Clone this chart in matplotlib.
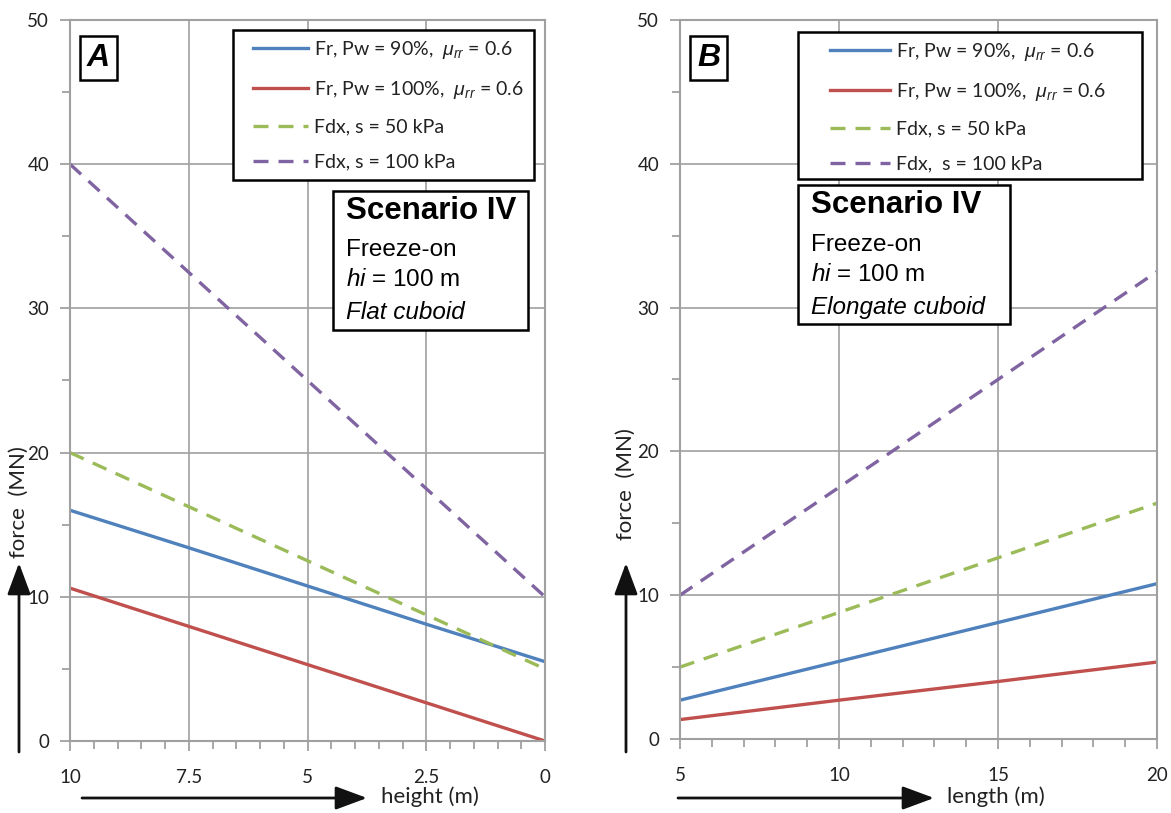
import matplotlib
matplotlib.use("Agg")
import matplotlib.pyplot as plt
from matplotlib.ticker import MultipleLocator
from matplotlib.patches import Rectangle, FancyArrowPatch

# ---- data ----
height_m = [10, 7.5, 5, 2.5, 0]
A_fr90 = [16.0, 13.4, 10.75, 8.1, 5.5]
A_fr100 = [10.6, 7.95, 5.3, 2.65, 0.0]
A_fdx50 = [20.0, 16.25, 12.5, 8.75, 5.0]
A_fdx100 = [40.0, 32.5, 25.0, 17.5, 10.0]

length_m = [5, 10, 15, 20]
B_fr90 = [2.7, 5.4, 8.1, 10.8]
B_fr100 = [1.35, 2.7, 4.0, 5.35]
B_fdx50 = [5.0, 8.8, 12.6, 16.4]
B_fdx100 = [10.0, 17.5, 25.0, 32.5]

labels_A = [r"Fr, Pw = 90%,  $\mu_{rr}$ = 0.6", r"Fr, Pw = 100%,  $\mu_{rr}$ = 0.6",
            "Fdx, s = 50 kPa", "Fdx, s = 100 kPa"]
labels_B = [r"Fr, Pw = 90%,  $\mu_{rr}$ = 0.6", r"Fr, Pw = 100%,  $\mu_{rr}$ = 0.6",
            "Fdx, s = 50 kPa", "Fdx,  s = 100 kPa"]
height_ticklabels = ["10", "7.5", "5", "2.5", "0"]

colors = ["#4F81BD", "#C0504D", "#9BBB59", "#8064A2"]
styles = ["-", "-", (0, (4.5, 3.0)), (0, (4.5, 3.0))]

plt.rcParams["font.family"] = ["Lato", "DejaVu Sans"]
plt.rcParams["mathtext.fontset"] = "custom"
plt.rcParams["mathtext.it"] = "Lato:italic"
plt.rcParams["mathtext.rm"] = "Lato"

W, H = 1171, 813
fig = plt.figure(figsize=(W/100, H/100), dpi=100)

def fx(px):
    return px / W
def fy(py):
    return 1 - py / H

axA = fig.add_axes([fx(70), fy(741), 475/W, 721/H])
axB = fig.add_axes([fx(680), fy(739), 477/W, 719/H])

def style_ax(ax, xmaj, xmin):
    ax.set_ylim(0, 50)
    ax.yaxis.set_major_locator(MultipleLocator(10))
    ax.yaxis.set_minor_locator(MultipleLocator(5))
    ax.xaxis.set_major_locator(MultipleLocator(xmaj))
    ax.xaxis.set_minor_locator(MultipleLocator(xmin))
    ax.grid(True, which="major", color="#A0A0A0", linewidth=1.2)
    for s in ax.spines.values():
        s.set_color("#A0A0A0")
        s.set_linewidth(1.5)
    ax.tick_params(which="both", direction="out", color="#A0A0A0", width=1.3,
                   labelsize=13.5, labelcolor="#222222")
    ax.tick_params(axis="y", which="major", length=7, pad=8)
    ax.tick_params(axis="x", which="major", length=7, pad=13)
    ax.tick_params(which="minor", length=6)
    ax.set_axisbelow(True)

seriesA = [A_fr90, A_fr100, A_fdx50, A_fdx100]
seriesB = [B_fr90, B_fr100, B_fdx50, B_fdx100]
for ys, c, ls, lab in zip(seriesA, colors, styles, labels_A):
    axA.plot(height_m, ys, color=c, linestyle=ls, linewidth=2.4, label=lab)
for ys, c, ls, lab in zip(seriesB, colors, styles, labels_B):
    axB.plot(length_m, ys, color=c, linestyle=ls, linewidth=2.4, label=lab)

axA.set_xlim(10, 0)
axB.set_xlim(5, 20)
style_ax(axA, 2.5, 0.5)
style_ax(axB, 5, 1)
axA.set_xticks(height_m)
axA.set_xticklabels(height_ticklabels)

# legends: frame drawn manually, entries placed with a frameless legend
for ax, (x0, y0, x1, y1), (hx, hy), hl in [(axA, (233, 30, 534, 180), (253, 39), 2.85),
                                           (axB, (798, 32, 1142, 179), (830, 41), 3.1)]:
    ax.add_patch(Rectangle((fx(x0), fy(y1)), (x1-x0)/W, (y1-y0)/H,
                           transform=fig.transFigure, fc="white", ec="black",
                           lw=1.8, zorder=4, clip_on=False))
    leg = ax.legend(loc="upper left", bbox_to_anchor=(fx(hx), fy(hy)),
                    bbox_transform=fig.transFigure, fontsize=14, frameon=False,
                    handlelength=hl, labelspacing=0.92, borderpad=0,
                    handletextpad=0.3, borderaxespad=0)
    leg.set_zorder(6)
    for t in leg.get_texts():
        t.set_color("#222222")

# panel letters
for ax, letter in [(axA, "A"), (axB, "B")]:
    ax.text(0.036, 0.968, letter, transform=ax.transAxes, fontsize=23,
            fontweight="bold", fontstyle="italic", family="Liberation Sans",
            ha="left", va="top",
            bbox=dict(boxstyle="square,pad=0.22", fc="white", ec="black", lw=1.8))

# scenario boxes
plt.rcParams["mathtext.it"] = "Liberation Sans:italic"
plt.rcParams["mathtext.rm"] = "Liberation Sans"

def scen(x0, x1, y0, y1, tx, rows, last):
    fig.add_artist(Rectangle((fx(x0), fy(y1)), (x1-x0)/W, (y1-y0)/H,
                             transform=fig.transFigure, fc="white", ec="black",
                             lw=1.8, zorder=3))
    kw = dict(transform=fig.transFigure, ha="left", va="center",
              family="Liberation Sans", zorder=4)
    fig.text(fx(tx), fy(rows[0]), "Scenario IV", fontsize=22.5, fontweight="bold", **kw)
    fig.text(fx(tx), fy(rows[1]), "Freeze-on", fontsize=17.5, **kw)
    fig.text(fx(tx), fy(rows[2]), r"$\mathit{hi}$ = 100 m", fontsize=17.5, **kw)
    fig.text(fx(tx), fy(rows[3]), last, fontsize=17.5, fontstyle="italic", **kw)

scen(333, 528, 191, 330, 346, (211, 250, 280, 312), "Flat cuboid")
scen(798, 1010, 185, 324, 811, (205, 245, 275, 307), "Elongate cuboid")

# axis labels and arrows (figure pixel coordinates)
arrow = dict(arrowstyle="-|>,head_length=0.97,head_width=0.36", color="#111111",
             lw=2, mutation_scale=20, shrinkA=0, shrinkB=0, transform=fig.transFigure)
for x, lc in ((19, 502), (626, 484)):
    fig.add_artist(FancyArrowPatch((fx(x), fy(752)), (fx(x), fy(563)), **arrow))
    fig.text(fx(x), fy(lc), "force  (MN)", rotation=90, ha="center", va="center",
             fontsize=16, color="#222222")
fig.add_artist(FancyArrowPatch((fx(82), fy(798)), (fx(367), fy(798)), **arrow))
fig.text(fx(381), fy(797), "height (m)", ha="left", va="center", fontsize=16, color="#222222")
fig.add_artist(FancyArrowPatch((fx(678), fy(798)), (fx(934), fy(798)), **arrow))
fig.text(fx(947), fy(797), "length (m)", ha="left", va="center", fontsize=16, color="#222222")

fig.savefig("out.png", dpi=100, facecolor="white")
